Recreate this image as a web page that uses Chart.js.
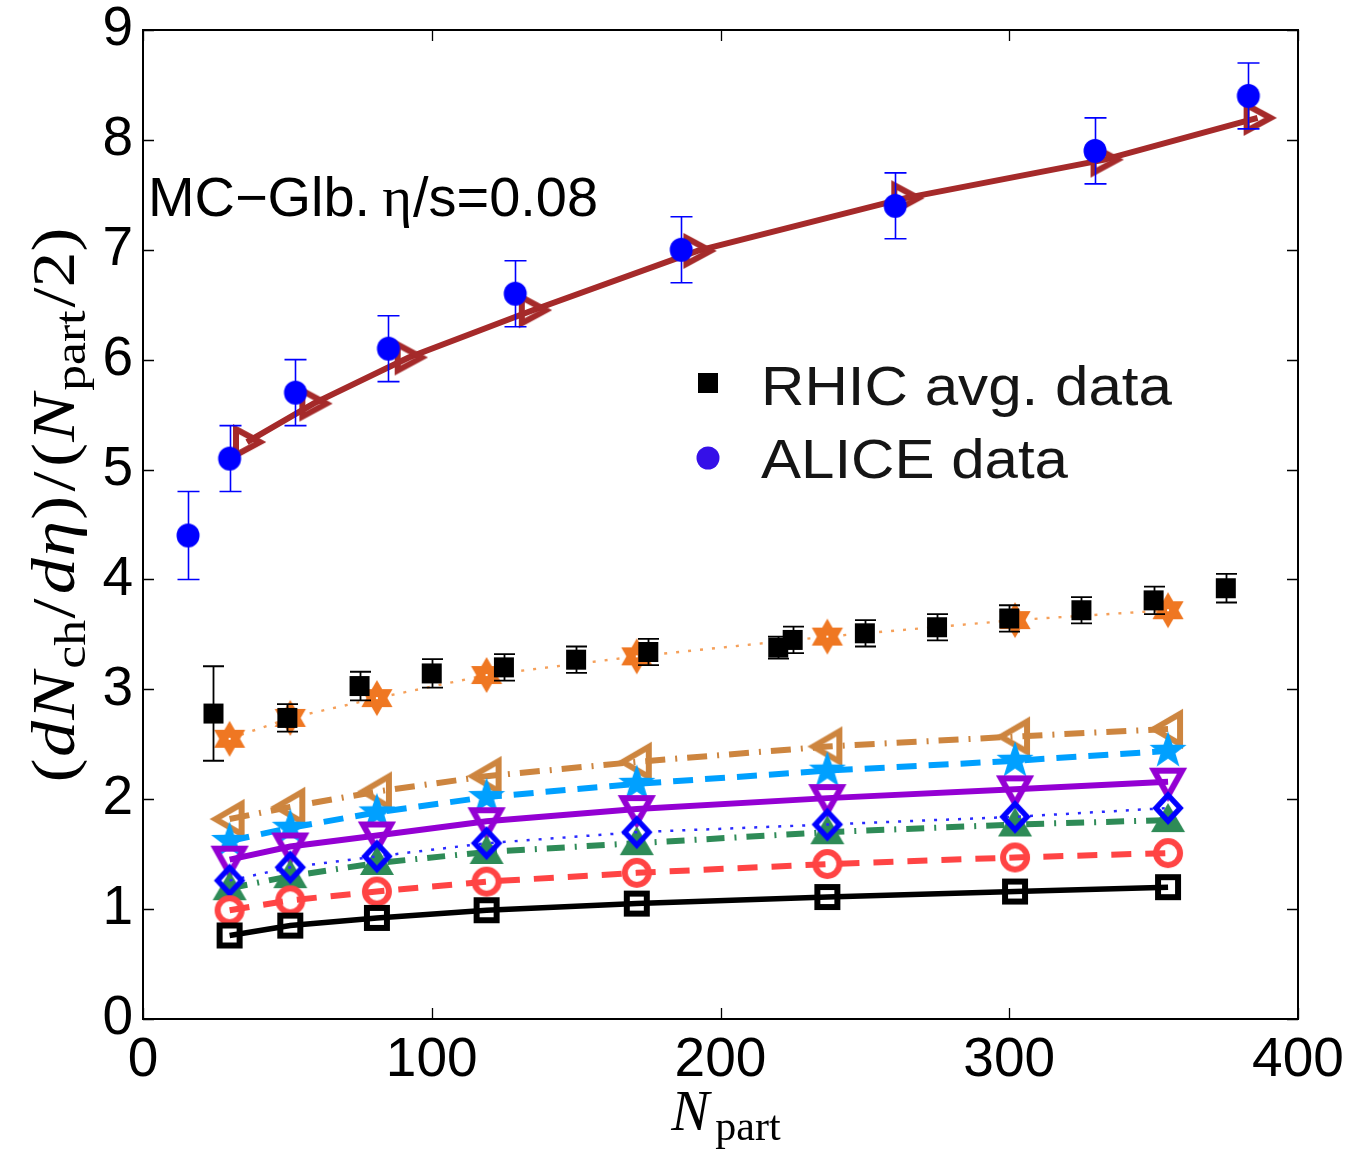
<!DOCTYPE html>
<html><head><meta charset="utf-8">
<script src="https://cdn.jsdelivr.net/npm/chart.js@4.4.1/dist/chart.umd.min.js"></script>
<style>html,body{margin:0;padding:0;background:#fff}</style>
</head><body>
<canvas id="c" width="1350" height="1149"></canvas>
<script>
// ---------- data ----------
const xTickValues = [0, 100, 200, 300, 400];
const yTickValues = [0, 1, 2, 3, 4, 5, 6, 7, 8, 9];

const aliceNpart = [15.6, 30, 52.8, 85, 128.9, 186.4, 260.5, 329.7, 382.8];
const aliceVal   = [4.4, 5.1, 5.7, 6.1, 6.6, 7.0, 7.4, 7.9, 8.4];
const aliceErr   = [0.4, 0.3, 0.3, 0.3, 0.3, 0.3, 0.3, 0.3, 0.3];

const rhicNpart = [24.4, 50, 75, 100, 125, 150, 175, 220, 225, 250, 275, 300, 325, 350, 375];
const rhicVal   = [2.78, 2.74, 3.03, 3.145, 3.20, 3.27, 3.34, 3.38, 3.45, 3.51, 3.565, 3.645, 3.72, 3.81, 3.92];
const rhicErr   = [0.43, 0.125, 0.13, 0.13, 0.12, 0.12, 0.12, 0.10, 0.12, 0.12, 0.12, 0.12, 0.12, 0.125, 0.13];

const lhcModelNpart = [36, 59, 92, 135, 192, 264, 333, 386];
const lhcModelVal   = [5.25, 5.60, 6.02, 6.45, 6.99, 7.47, 7.82, 8.20];

const modelNpart = [30, 51, 81, 119, 171, 237, 302, 355];
const orangeVal    = [2.55, 2.74, 2.92, 3.13, 3.30, 3.48, 3.63, 3.72];
const tanVal       = [1.82, 1.93, 2.07, 2.21, 2.34, 2.48, 2.57, 2.64];
const lightblueVal = [1.62, 1.74, 1.88, 2.02, 2.14, 2.26, 2.35, 2.44];
const purpleVal    = [1.45, 1.57, 1.67, 1.80, 1.91, 2.01, 2.09, 2.16];
const diamondVal   = [1.26, 1.38, 1.48, 1.60, 1.70, 1.77, 1.84, 1.92];
const greenVal     = [1.19, 1.30, 1.42, 1.52, 1.60, 1.70, 1.77, 1.81];
const redVal       = [0.99, 1.08, 1.16, 1.25, 1.33, 1.41, 1.47, 1.51];
const blackVal     = [0.76, 0.85, 0.92, 0.99, 1.05, 1.11, 1.16, 1.20];

// ---------- markers ----------
function mk(w, h, draw) {
  const c = document.createElement('canvas');
  c.width = w; c.height = h;
  const g = c.getContext('2d');
  g.translate(w / 2, h / 2);
  g.lineJoin = 'miter';
  draw(g);
  return c;
}
function poly(g, pts) { g.beginPath(); g.moveTo(pts[0][0], pts[0][1]); for (let i = 1; i < pts.length; i++) g.lineTo(pts[i][0], pts[i][1]); g.closePath(); }
function starPts(n, R, r, rot) { const p = []; for (let i = 0; i < 2 * n; i++) { const a = rot + i * Math.PI / n; const rr = i % 2 ? r : R; p.push([rr * Math.cos(a), rr * Math.sin(a)]); } return p; }

const M = {
  blackSq: mk(34, 34, g => { g.strokeStyle = '#000'; g.lineWidth = 6; g.strokeRect(-10, -10, 20, 20); }),
  redCirc: mk(38, 38, g => { g.strokeStyle = '#ff4444'; g.lineWidth = 6; g.beginPath(); g.arc(0, 0, 12, 0, 2 * Math.PI); g.stroke(); }),
  diamond: mk(44, 44, g => { g.strokeStyle = '#0000ff'; g.lineWidth = 5.5; poly(g, [[0, -13], [12, 0], [0, 13], [-12, 0]]); g.stroke(); }),
  greenTri: mk(42, 42, g => { g.fillStyle = '#2e8b57'; poly(g, [[0, -17], [17, 12], [-17, 12]]); g.fill(); }),
  purpleTri: mk(46, 46, g => { g.strokeStyle = '#9400d3'; g.lineWidth = 6; poly(g, [[-14, -11], [14, -11], [0, 14]]); g.stroke(); }),
  lbStar: mk(44, 44, g => { g.fillStyle = '#00a0ff'; poly(g, starPts(5, 19.5, 7.8, -Math.PI / 2)); g.fill(); }),
  tanTri: mk(48, 48, g => { g.strokeStyle = '#cd853f'; g.lineWidth = 6; poly(g, [[-14, 0], [12, -15], [12, 15]]); g.stroke(); }),
  hexa: mk(42, 42, g => { g.fillStyle = '#ef7722'; const R = 18; poly(g, [[0, -R], [R * 0.866, R / 2], [-R * 0.866, R / 2]]); g.fill(); poly(g, [[0, R], [R * 0.866, -R / 2], [-R * 0.866, -R / 2]]); g.fill(); g.fillStyle = '#fff'; g.fillRect(-1, -1, 2, 2); }),
  brownTri: mk(44, 44, g => { g.strokeStyle = '#a52a2a'; g.lineWidth = 6; poly(g, [[13, 0], [-11, -13], [-11, 13]]); g.stroke(); }),
  rhicSq: mk(24, 24, g => { g.fillStyle = '#000'; g.fillRect(-10, -10, 20, 20); }),
  aliceCirc: mk(28, 28, g => { g.fillStyle = '#0000ff'; g.beginPath(); g.ellipse(0, 0, 11.5, 12, 0, 0, 2 * Math.PI); g.fill(); }),
  legCirc: mk(28, 28, g => { g.fillStyle = '#3510e8'; g.beginPath(); g.arc(0, 0, 11.5, 0, 2 * Math.PI); g.fill(); })
};

function pts(xs, ys) { return xs.map((x, i) => ({ x: x, y: ys[i] })); }

function model(label, xs, ys, color, width, dash, marker, order) {
  return {
    label: label, data: pts(xs, ys), showLine: true, borderColor: color, borderWidth: width,
    borderDash: dash, pointStyle: marker, pointRadius: 14, backgroundColor: color, order: order, tension: 0
  };
}

const datasets = [
  { label: 'RHIC avg. data', data: pts(rhicNpart, rhicVal), errs: rhicErr, errColor: '#000', errW: 1.8, capHalf: 10.5,
    showLine: false, pointStyle: M.rhicSq, pointRadius: 11, order: 0 },
  { label: 'ALICE data', data: pts(aliceNpart, aliceVal), errs: aliceErr, errColor: '#0000ff', errW: 1.6, capHalf: 11,
    showLine: false, pointStyle: M.aliceCirc, pointRadius: 12, order: 0 },
  model('LHC model', lhcModelNpart, lhcModelVal, '#a52a2a', 6, [], M.brownTri, 1),
  model('m1', modelNpart, blackVal, '#000000', 5.5, [], M.blackSq, 2),
  model('m2', modelNpart, redVal, '#ff4444', 6, [20, 14], M.redCirc, 3),
  model('m3', modelNpart, diamondVal, '#2a2aff', 2.5, [3, 9], M.diamond, 4),
  model('m4', modelNpart, greenVal, '#2e8b57', 6, [18, 10, 2, 10], M.greenTri, 5),
  model('m5', modelNpart, purpleVal, '#9400d3', 6, [], M.purpleTri, 6),
  model('m6', modelNpart, lightblueVal, '#00a0ff', 6, [20, 12], M.lbStar, 7),
  model('m7', modelNpart, tanVal, '#cd853f', 6, [20, 10, 2, 10], M.tanTri, 8),
  model('m8', modelNpart, orangeVal, '#f5a05a', 2.4, [3, 9], M.hexa, 9)
];

// ---------- plugins ----------
const errorBars = {
  id: 'errorBars',
  afterDatasetDraw(chart, args) {
    const ds = chart.data.datasets[args.index];
    if (!ds.errs) return;
    const g = chart.ctx, xs = chart.scales.x, ys = chart.scales.y;
    g.save();
    g.strokeStyle = ds.errColor; g.lineWidth = ds.errW;
    ds.data.forEach((p, i) => {
      const px = Math.round(xs.getPixelForValue(p.x)) + 0.5;
      const top = ys.getPixelForValue(p.y + ds.errs[i]);
      const bot = ys.getPixelForValue(p.y - ds.errs[i]);
      g.beginPath();
      g.moveTo(px, top); g.lineTo(px, bot);
      g.moveTo(px - ds.capHalf, top); g.lineTo(px + ds.capHalf, top);
      g.moveTo(px - ds.capHalf, bot); g.lineTo(px + ds.capHalf, bot);
      g.stroke();
    });
    g.restore();
  }
};

function drawRich(g, segs, x, y) {
  let cx = x;
  segs.forEach(s => {
    g.font = s.font;
    g.fillText(s.t, cx, y + (s.dy || 0));
    cx += g.measureText(s.t).width + (s.gap || 0);
  });
  return cx - x;
}
function richWidth(g, segs) {
  let w = 0;
  segs.forEach(s => { g.font = s.font; w += g.measureText(s.t).width + (s.gap || 0); });
  return w;
}
function fitText(g, text, x, y, font, targetW) {
  g.font = font;
  const w = g.measureText(text).width;
  g.save();
  g.translate(x, y);
  g.scale(targetW / w, 1);
  g.fillText(text, 0, 0);
  g.restore();
}

const SANS = '"Liberation Sans", Arial, sans-serif';
const SERIF = '"Liberation Serif", "Times New Roman", serif';

const deco = {
  id: 'deco',
  afterDraw(chart) {
    const g = chart.ctx, a = chart.chartArea, xs = chart.scales.x, ys = chart.scales.y;
    g.save();
    // box
    g.strokeStyle = '#000'; g.lineWidth = 2;
    g.strokeRect(a.left, a.top, a.right - a.left, a.bottom - a.top);
    // inward ticks on all sides
    g.lineWidth = 1.3;
    g.beginPath();
    xTickValues.forEach(v => {
      const px = Math.round(xs.getPixelForValue(v)) + 0.5;
      g.moveTo(px, a.bottom); g.lineTo(px, a.bottom - 11);
      g.moveTo(px, a.top); g.lineTo(px, a.top + 11);
    });
    yTickValues.forEach(v => {
      const py = Math.round(ys.getPixelForValue(v)) + 0.5;
      g.moveTo(a.left, py); g.lineTo(a.left + 11, py);
      g.moveTo(a.right, py); g.lineTo(a.right - 11, py);
    });
    g.stroke();

    g.fillStyle = '#000';
    g.textBaseline = 'alphabetic';
    g.textAlign = 'left';

    // annotation
    const ann = [
      { t: 'MC\u2212Glb.', font: '55px ' + SANS, gap: 12 },
      { t: '\u03b7', font: '56px ' + SERIF, gap: 1 },
      { t: '/s=0.08', font: '55px ' + SANS }
    ];
    const aw = richWidth(g, ann);
    g.save();
    g.translate(148, 216);
    g.scale(450 / aw, 1);
    drawRich(g, ann, 0, 0);
    g.restore();

    // legend
    g.drawImage(M.rhicSq, 708 - 12, 383 - 12);
    g.drawImage(M.legCirc, 708 - 14, 458 - 14);
    g.fillStyle = '#151515';
    fitText(g, 'RHIC avg. data', 761, 405, '56px ' + SANS, 411);
    fitText(g, 'ALICE data', 761, 478, '56px ' + SANS, 307);
    g.fillStyle = '#000';

    // x-axis title
    const xt = [
      { t: 'N', font: 'italic 57px ' + SERIF, gap: 6 },
      { t: 'part', font: '42px ' + SERIF, dy: 10 }
    ];
    const xw = richWidth(g, xt);
    drawRich(g, xt, 726 - xw / 2, 1130);

    // y-axis title (rotated)
    const FS = 50, SS = 36;
    const it = s => 'italic ' + s + 'px ' + SERIF;
    const up = s => s + 'px ' + SERIF;
    const yt = [
      { t: '(', font: up(FS), gap: 1 }, { t: 'd', font: it(FS), gap: 1 }, { t: 'N', font: it(FS), gap: 2 },
      { t: 'ch', font: up(SS), dy: 9, gap: 1 }, { t: '/', font: up(FS), gap: 3 }, { t: 'd', font: it(FS), gap: 1 },
      { t: '\u03b7', font: it(FS), gap: 1 }, { t: ')', font: up(FS), gap: 3 }, { t: '/', font: up(FS), gap: 3 },
      { t: '(', font: up(FS), gap: 1 }, { t: 'N', font: it(FS), gap: 2 }, { t: 'part', font: up(SS), dy: 9, gap: 2 },
      { t: '/2)', font: up(FS) }
    ];
    g.translate(74, 505);
    g.rotate(-Math.PI / 2);
    const natural = richWidth(g, yt);
    const sc = 555 / natural;
    g.scale(sc, sc * 0.86);
    drawRich(g, yt, -natural / 2, 0);
    g.restore();
  }
};

Chart.defaults.font.family = SANS;

function zeroPad(s) { s.paddingTop = 0; s.paddingBottom = 0; s.paddingLeft = 0; s.paddingRight = 0; }

new Chart(document.getElementById('c'), {
  type: 'scatter',
  data: { datasets: datasets },
  options: {
    responsive: false, animation: false, devicePixelRatio: 1, events: [],
    layout: { autoPadding: false, padding: { left: 0, top: 30, right: 52, bottom: 0 } },
    plugins: { legend: { display: false }, tooltip: { enabled: false } },
    scales: {
      x: {
        type: 'linear', min: 0, max: 400,
        afterBuildTicks: s => { s.ticks = xTickValues.map(v => ({ value: v })); },
        afterFit: s => { s.height = 130; zeroPad(s); },
        grid: { display: false, drawTicks: false }, border: { display: false },
        ticks: { color: '#000', padding: 14, font: { size: 55, lineHeight: 1 }, maxRotation: 0 }
      },
      y: {
        type: 'linear', min: 0, max: 9,
        afterBuildTicks: s => { s.ticks = yTickValues.map(v => ({ value: v })); },
        afterFit: s => { s.width = 143; zeroPad(s); },
        grid: { display: false, drawTicks: false }, border: { display: false },
        ticks: { color: '#000', padding: 10, font: { size: 55, lineHeight: 1 } }
      }
    }
  },
  plugins: [errorBars, deco]
});
</script>
</body></html>
